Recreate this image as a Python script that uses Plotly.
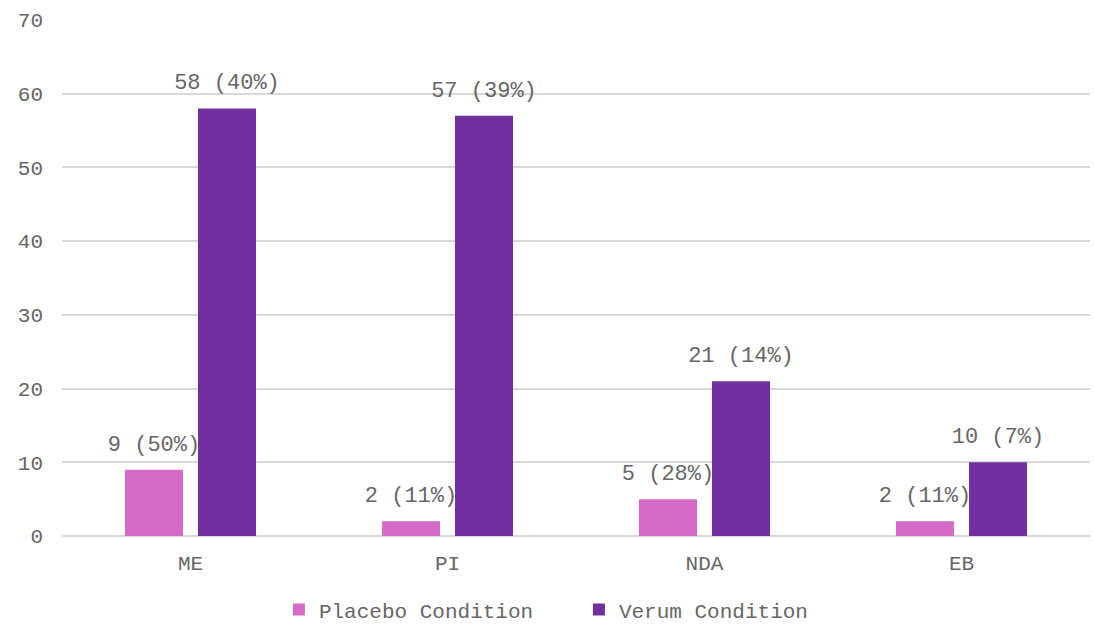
import plotly.graph_objects as go

categories = ["ME", "PI", "NDA", "EB"]
placebo = [9, 2, 5, 2]
placebo_pct = ["50%", "11%", "28%", "11%"]
verum = [58, 57, 21, 10]
verum_pct = ["40%", "39%", "14%", "7%"]
y_ticks = [0, 10, 20, 30, 40, 50, 60, 70]

FONT = "Liberation Mono, Courier New, monospace"
GRAY = "#666666"
PINK = "#D56BC6"
PURPLE = "#7030A0"

fig = go.Figure()
for name, vals, pcts, color, grp in [
    ("Placebo Condition", placebo, placebo_pct, PINK, "p"),
    ("Verum Condition", verum, verum_pct, PURPLE, "v"),
]:
    fig.add_trace(go.Bar(
        name=name, x=categories, y=vals, offsetgroup=grp,
        marker=dict(color=color, line=dict(width=0)),
    ))
    fig.add_trace(go.Scatter(
        x=categories, y=vals, offsetgroup=grp, mode="markers+text",
        marker=dict(size=20, opacity=0, color=color),
        text=[f"{v} ({p})" for v, p in zip(vals, pcts)],
        textposition="top center", showlegend=False, hoverinfo="skip",
        textfont=dict(family=FONT, size=22, color=GRAY), cliponaxis=False,
    ))

fig.update_layout(
    width=1094, height=624,
    margin=dict(l=62, r=4, t=20, b=88, autoexpand=False),
    paper_bgcolor="white", plot_bgcolor="white",
    barmode="group", bargap=0.432, bargroupgap=0.205,
    scattermode="group", scattergap=0.432,
    font=dict(family=FONT, size=21, color=GRAY),
    legend=dict(orientation="h", x=0.211, xanchor="left", y=-0.143, yanchor="middle",
                font=dict(family=FONT, size=21, color=GRAY), itemwidth=30,
                entrywidth=255, traceorder="normal"),
    xaxis=dict(showgrid=False, showline=False, ticks="", ticklabelstandoff=12,
               tickfont=dict(family=FONT, size=21, color=GRAY)),
    yaxis=dict(range=[0, 70], tickvals=y_ticks, showgrid=True,
               gridcolor="#D9D9D9", gridwidth=1.5, zeroline=True,
               zerolinecolor="#D9D9D9", zerolinewidth=1.5, showline=False,
               ticks="", ticklabelstandoff=18,
               tickfont=dict(family=FONT, size=21, color=GRAY)),
)
fig.write_html("out.html")
